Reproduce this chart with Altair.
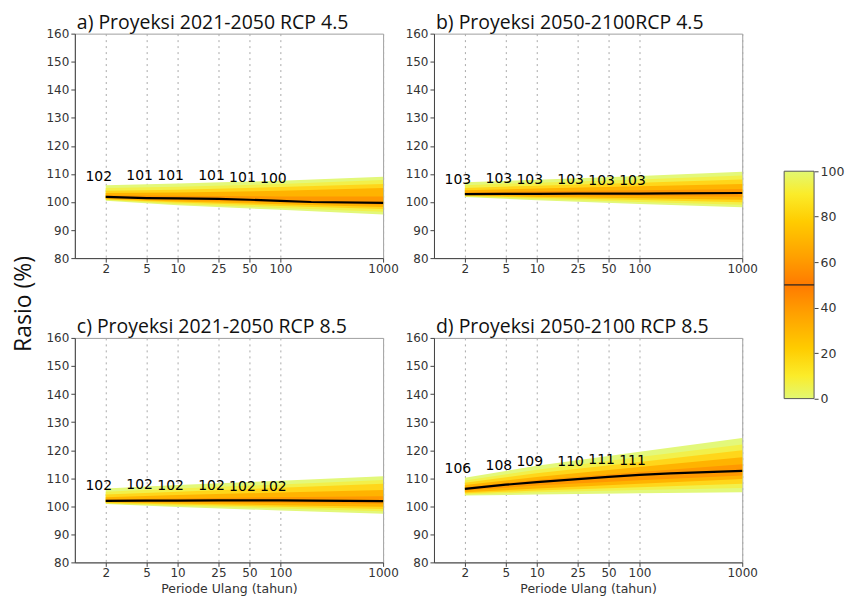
import altair as alt
import pandas as pd

# ---------------- data ----------------
band_x = [2, 10, 100, 1000]
med_x = [2, 5, 10, 25, 50, 100, 200, 1000]
label_x = [2, 5, 10, 25, 50, 100]
tick_x = [2, 5, 10, 25, 50, 100, 1000]
tick_y = [80, 90, 100, 110, 120, 130, 140, 150, 160]

titles = [
    "a) Proyeksi 2021-2050 RCP 4.5",
    "b) Proyeksi 2050-2100RCP 4.5",
    "c) Proyeksi 2021-2050 RCP 8.5",
    "d) Proyeksi 2050-2100 RCP 8.5",
]

# panel a
a_med = [101.8, 101.4, 101.3, 101.1, 100.8, 100.4, 100.0, 99.7]
a_q0 = [100.4, 98.8, 97.2, 95.5]
a_q10 = [100.7, 99.3, 97.9, 96.5]
a_q20 = [100.9, 99.8, 98.6, 97.5]
a_q30 = [101.1, 100.2, 99.2, 98.2]
a_q40 = [101.4, 100.7, 99.9, 99.0]
a_q60 = [102.4, 102.2, 102.0, 102.0]
a_q70 = [103.2, 103.4, 104.0, 105.0]
a_q80 = [104.0, 104.4, 105.3, 106.4]
a_q90 = [105.0, 105.4, 106.4, 107.8]
a_q100 = [106.0, 106.6, 107.6, 109.0]
a_lab = [102, 101, 101, 101, 101, 100]
a_lab_y = [108.8, 109.3, 109.2, 109.2, 108.5, 108.3]

# panel b
b_med = [102.8, 102.9, 102.9, 103.0, 103.0, 103.0, 103.1, 103.2]
b_q0 = [101.8, 100.6, 99.3, 98.1]
b_q10 = [102.0, 101.1, 100.0, 99.0]
b_q20 = [102.2, 101.5, 100.7, 99.9]
b_q30 = [102.4, 101.9, 101.3, 100.8]
b_q40 = [102.6, 102.4, 102.1, 101.9]
b_q60 = [103.4, 103.8, 104.2, 104.6]
b_q70 = [104.2, 104.8, 105.6, 106.4]
b_q80 = [105.0, 105.8, 106.9, 108.0]
b_q90 = [106.0, 106.9, 108.0, 109.4]
b_q100 = [107.0, 107.9, 109.3, 110.8]
b_lab = [103, 103, 103, 103, 103, 103]
b_lab_y = [107.8, 108.2, 108.0, 108.0, 107.5, 107.5]

# panel c
c_med = [101.9, 102.0, 102.0, 102.1, 102.1, 102.1, 102.0, 101.8]
c_q0 = [100.8, 99.7, 98.5, 97.3]
c_q10 = [101.0, 100.2, 99.2, 98.2]
c_q20 = [101.2, 100.6, 99.8, 99.0]
c_q30 = [101.4, 101.0, 100.4, 99.8]
c_q40 = [101.6, 101.5, 101.2, 100.9]
c_q60 = [102.4, 102.8, 103.2, 103.6]
c_q70 = [103.2, 104.0, 104.9, 105.8]
c_q80 = [104.2, 105.2, 106.6, 108.0]
c_q90 = [105.2, 106.3, 107.8, 109.4]
c_q100 = [106.3, 107.6, 109.1, 110.7]
c_lab = [102, 102, 102, 102, 102, 102]
c_lab_y = [107.2, 107.6, 107.2, 107.3, 106.8, 106.8]

# panel d
d_med = [106.2, 107.7, 108.6, 109.7, 110.5, 111.2, 111.7, 112.6]
d_q0 = [103.8, 104.2, 104.6, 105.0]
d_q10 = [104.2, 105.0, 105.8, 106.5]
d_q20 = [104.6, 105.6, 106.8, 108.0]
d_q30 = [105.0, 106.3, 108.0, 109.7]
d_q40 = [105.6, 107.4, 109.3, 111.0]
d_q60 = [106.8, 109.4, 112.2, 115.0]
d_q70 = [107.6, 110.4, 114.0, 117.5]
d_q80 = [108.4, 111.8, 115.8, 120.0]
d_q90 = [109.2, 113.0, 117.6, 122.0]
d_q100 = [110.2, 114.4, 119.4, 124.3]
d_lab = [106, 108, 109, 110, 111, 111]
d_lab_y = [113.1, 114.5, 115.6, 115.6, 116.4, 116.1]

# colourbar
cbar_lo = [0]
cbar_hi = [100]
cbar_median = [50]
cbar_ticks = [0, 20, 40, 60, 80, 100]

# ---------------- style ----------------
band_colors = ["#e3f87a", "#f2f04a", "#ffd61a", "#ffb300", "#ff9800"]
TICK_FONT = "DejaVu Sans"
TITLE_FONT = "Open Sans"

y_scale = alt.Scale(domain=[80, 160], nice=False, zero=False)
x_scale = alt.Scale(type="log", domain=[1, 1000], nice=False)


def make_panel(title, med, lows, highs, lab, lab_y, xtitle):
    xaxis = alt.Axis(
        values=tick_x, format="d", grid=True, gridDash=[2, 4], gridColor="#aaaaaa",
        gridWidth=1, domainColor="#444", tickColor="#444", tickSize=4,
        labelFont=TICK_FONT, labelFontSize=12, labelColor="#333",
        labelPadding=1, labelFlush=False, labelOverlap=False,
        title=xtitle if xtitle else None,
        titleFont=TICK_FONT, titleFontSize=12.5, titleFontWeight="normal",
        titleColor="#333", titlePadding=4,
    )
    yaxis = alt.Axis(
        values=tick_y, tickCount=9, grid=False, domainColor="#444",
        tickColor="#444", tickSize=4, labelFont=TICK_FONT, labelFontSize=12,
        labelColor="#333", labelPadding=2, labelOverlap=False, title=None,
    )
    X = lambda f: alt.X(f, scale=x_scale, axis=xaxis)
    Y = lambda f: alt.Y(f, scale=y_scale, axis=yaxis)
    layers = []
    for i, (lo, hi) in enumerate(zip(lows, highs)):
        df = pd.DataFrame({"x": band_x, "lo": lo, "hi": hi})
        layers.append(
            alt.Chart(df).mark_area(color=band_colors[i], opacity=1).encode(
                x=X("x:Q"), y=Y("lo:Q"), y2="hi:Q",
            )
        )
    mdf = pd.DataFrame({"x": med_x, "m": med})
    layers.append(
        alt.Chart(mdf).mark_line(color="black", strokeWidth=2.2).encode(
            x=X("x:Q"), y=Y("m:Q")
        )
    )
    ldf = pd.DataFrame({"x": label_x, "y": lab_y, "t": [str(v) for v in lab]})
    layers.append(
        alt.Chart(ldf).mark_text(
            font=TICK_FONT, fontSize=14, color="black", dx=-7
        ).encode(x=X("x:Q"), y=Y("y:Q"), text="t:N")
    )
    return alt.layer(*layers).properties(
        width=309, height=225,
        title=alt.TitleParams(
            title, anchor="start", frame="group", font=TITLE_FONT, fontSize=19.5,
            fontWeight="normal", color="#111", offset=-6, dx=2,
        ),
    )


pa = make_panel(titles[0], a_med,
                [a_q0, a_q10, a_q20, a_q30, a_q40],
                [a_q100, a_q90, a_q80, a_q70, a_q60], a_lab, a_lab_y, None)
pb = make_panel(titles[1], b_med,
                [b_q0, b_q10, b_q20, b_q30, b_q40],
                [b_q100, b_q90, b_q80, b_q70, b_q60], b_lab, b_lab_y, None)
pc = make_panel(titles[2], c_med,
                [c_q0, c_q10, c_q20, c_q30, c_q40],
                [c_q100, c_q90, c_q80, c_q70, c_q60], c_lab, c_lab_y,
                "Periode Ulang (tahun)")
pd_ = make_panel(titles[3], d_med,
                 [d_q0, d_q10, d_q20, d_q30, d_q40],
                 [d_q100, d_q90, d_q80, d_q70, d_q60], d_lab, d_lab_y,
                 "Periode Ulang (tahun)")

grid = alt.vconcat(
    alt.hconcat(pa, pb, spacing=5),
    alt.hconcat(pc, pd_, spacing=5),
    spacing=42,
).properties(
    title=alt.TitleParams(
        "Rasio (%)", orient="left", anchor="middle", font=TITLE_FONT,
        fontSize=23, fontWeight="normal", color="#111", offset=10,
    )
)

# colourbar panel
cb_scale = alt.Scale(domain=[-40, 160.5], nice=False, zero=False)
gradient = alt.Gradient(
    gradient="linear", x1=0, x2=0, y1=1, y2=0,
    stops=[
        alt.GradientStop(offset=0.0, color="#e2f872"),
        alt.GradientStop(offset=0.1, color="#fbec2a"),
        alt.GradientStop(offset=0.22, color="#ffcc00"),
        alt.GradientStop(offset=0.38, color="#ff9f00"),
        alt.GradientStop(offset=0.5, color="#ff7a00"),
        alt.GradientStop(offset=0.62, color="#ff9f00"),
        alt.GradientStop(offset=0.78, color="#ffcc00"),
        alt.GradientStop(offset=0.9, color="#fbec2a"),
        alt.GradientStop(offset=1.0, color="#e2f872"),
    ],
)
cb_axis = alt.Axis(
    orient="right", values=cbar_ticks, domain=False, grid=False, tickColor="#444",
    tickSize=4, labelFont=TICK_FONT, labelFontSize=12.5, labelColor="#333",
    labelPadding=2, labelOverlap=False, title=None,
)
cb_df = pd.DataFrame({"lo": cbar_lo, "hi": cbar_hi})
cb_rect = alt.Chart(cb_df).mark_rect(
    color=gradient, stroke="#555", strokeWidth=1
).encode(y=alt.Y("lo:Q", scale=cb_scale, axis=cb_axis), y2="hi:Q")
cb_rule = alt.Chart(pd.DataFrame({"p": cbar_median})).mark_rule(
    color="#222", strokeWidth=1.2
).encode(y=alt.Y("p:Q", scale=cb_scale, axis=cb_axis))
cbar = alt.layer(cb_rect, cb_rule).properties(
    width=30, height=457, view=alt.ViewBackground(stroke="transparent")
)

chart = alt.hconcat(grid, cbar, spacing=24).configure_view(
    stroke="#a0a0a0"
).properties(
    padding={"left": 4, "top": 4, "right": 0, "bottom": 0}, background="white"
)

chart.save("out.html", embed_options={"renderer": "svg", "actions": False})
